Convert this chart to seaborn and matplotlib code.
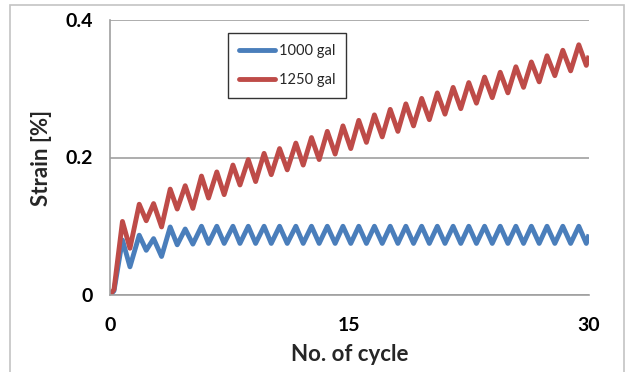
import matplotlib
matplotlib.use("Agg")
import matplotlib.pyplot as plt
from matplotlib.patches import Rectangle
from matplotlib.lines import Line2D
import numpy as np
import pandas as pd
import seaborn as sns

# ---- data ----
start_x = [0.0, 0.25]
start_1000 = [0.0, 0.006]
start_1250 = [0.0, 0.008]

peak_x = [0.78, 1.83, 2.73, 3.77, 4.71, 5.73, 6.69, 7.70, 8.66, 9.65,
          10.62, 11.64, 12.62, 13.61, 14.59, 15.58, 16.56, 17.55, 18.53, 19.52,
          20.50, 21.49, 22.47, 23.46, 24.44, 25.42, 26.39, 27.37, 28.36, 29.36]
trough_x = [1.25, 2.27, 3.23, 4.21, 5.19, 6.17, 7.15, 8.14, 9.12, 10.10,
            11.10, 12.10, 13.10, 14.10, 15.08, 16.06, 17.05, 18.03, 19.01, 20.00,
            20.98, 21.97, 22.95, 23.94, 24.92, 25.90, 26.88, 27.86, 28.85, 29.83]

peaks_1000 = [0.080, 0.087, 0.082, 0.099, 0.096, 0.100, 0.100, 0.100, 0.100, 0.100,
              0.100, 0.100, 0.100, 0.100, 0.100, 0.100, 0.100, 0.100, 0.100, 0.100,
              0.100, 0.100, 0.100, 0.100, 0.100, 0.100, 0.100, 0.100, 0.100, 0.100]
troughs_1000 = [0.041, 0.065, 0.056, 0.073, 0.074, 0.075, 0.075, 0.075, 0.075, 0.075,
                0.075, 0.075, 0.075, 0.075, 0.075, 0.075, 0.075, 0.075, 0.075, 0.075,
                0.075, 0.075, 0.075, 0.075, 0.075, 0.075, 0.075, 0.075, 0.075, 0.075]

peaks_1250 = [0.107, 0.132, 0.133, 0.154, 0.159, 0.173, 0.179, 0.189, 0.197, 0.206,
              0.213, 0.221, 0.229, 0.238, 0.246, 0.254, 0.262, 0.270, 0.278, 0.286,
              0.294, 0.302, 0.309, 0.317, 0.324, 0.332, 0.339, 0.348, 0.356, 0.364]
troughs_1250 = [0.068, 0.108, 0.099, 0.125, 0.126, 0.141, 0.146, 0.160, 0.165, 0.175,
                0.182, 0.189, 0.197, 0.205, 0.213, 0.222, 0.230, 0.238, 0.246, 0.255,
                0.263, 0.271, 0.279, 0.287, 0.294, 0.302, 0.310, 0.319, 0.326, 0.334]

end_x = [30.0]
end_1000 = [0.088]
end_1250 = [0.348]

series_names = ["1000 gal", "1250 gal"]
colors = ["#4A7EBB", "#BE4B48"]
x_ticks = [0, 15, 30]
y_ticks = [0, 0.2, 0.4]
y_tick_labels = ["0", "0.2", "0.4"]


def build(start, peaks, troughs, end):
    xs, ys = list(start_x), list(start)
    for px, py, tx, ty in zip(peak_x, peaks, trough_x, troughs):
        xs += [px, tx]
        ys += [py, ty]
    xs += end_x
    ys += end
    return xs, ys


rows = []
for name, (st, pk, tr, en) in zip(series_names,
                                  [(start_1000, peaks_1000, troughs_1000, end_1000),
                                   (start_1250, peaks_1250, troughs_1250, end_1250)]):
    xs, ys = build(st, pk, tr, en)
    for i, (a, b) in enumerate(zip(xs, ys)):
        rows.append({"cycle": a, "strain": b, "series": name, "order": i})
df = pd.DataFrame(rows)

sns.set_style("white")
plt.rcParams["font.family"] = ["Lato", "DejaVu Sans"]

fig = plt.figure(figsize=(6.27, 3.72), dpi=100)
W, H = 627, 372
ax = fig.add_axes([110 / W, 1 - 295 / H, (589 - 110) / W, (295 - 20) / H])

sns.lineplot(data=df, x="cycle", y="strain", hue="series", palette=colors,
             hue_order=series_names, linewidth=3.5, estimator=None, sort=False,
             ax=ax, legend=False)
for ln in ax.lines:
    ln.set_solid_joinstyle("round")
    ln.set_solid_capstyle("butt")

ax.set_xlim(0, 30)
ax.set_ylim(0, 0.4)
ax.set_xticks(x_ticks)
ax.set_xticklabels([str(t) for t in x_ticks])
ax.set_yticks(y_ticks)
ax.set_yticklabels(y_tick_labels)

gc = "#A0A0A0"
ax.yaxis.grid(True, color=gc, linewidth=1.2)
ax.xaxis.grid(False)
for s in ["top", "right"]:
    ax.spines[s].set_visible(False)
for s in ["left", "bottom"]:
    ax.spines[s].set_color(gc)
    ax.spines[s].set_linewidth(1.2)
ax.tick_params(axis="both", direction="out", length=6, width=1.2, color=gc,
               labelsize=14, labelcolor="black")
ax.tick_params(axis="x", pad=10)
ax.tick_params(axis="y", pad=6)
for lab in ax.get_xticklabels() + ax.get_yticklabels():
    lab.set_fontweight("bold")

ax.set_xlabel("No. of cycle", fontsize=16, fontweight="bold", labelpad=7)
ax.set_ylabel("Strain [%]", fontsize=16, fontweight="bold", labelpad=10)

handles = [Line2D([], [], color=c, linewidth=3.5) for c in colors]
leg = ax.legend(handles, series_names, loc="upper left",
                bbox_to_anchor=((228 - 110) / (589 - 110), 1 - (33 - 20) / (295 - 20)),
                frameon=True, fancybox=False, fontsize=10.5, handlelength=2.5,
                handletextpad=0.25, labelspacing=1.05, borderpad=0.75,
                borderaxespad=0)
leg.get_frame().set_edgecolor("black")
leg.get_frame().set_linewidth(1.0)

fig.add_artist(Rectangle((10 / W, -0.05), (624 - 10) / W, 1 - 5 / H + 0.05,
                         transform=fig.transFigure, fill=False,
                         edgecolor="#C4C4C4", linewidth=1.2))

fig.savefig("out.png", dpi=100)
